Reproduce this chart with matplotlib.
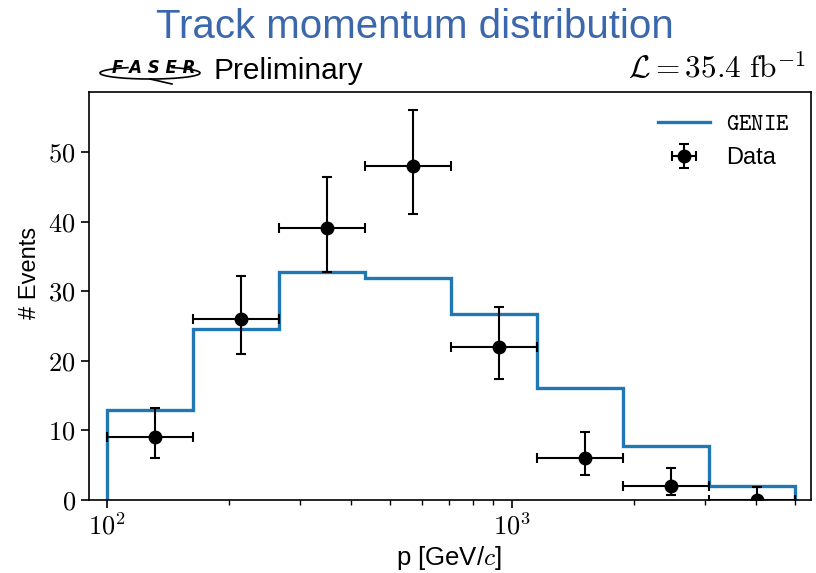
import numpy as np
import matplotlib
matplotlib.use("Agg")
import matplotlib.pyplot as plt
from matplotlib.patches import Arc
from matplotlib.ticker import FuncFormatter, FixedLocator

plt.rcParams['mathtext.fontset'] = 'cm'
plt.rcParams['font.family'] = ['Liberation Sans', 'DejaVu Sans']

# momentum bins [GeV/c]
edges = [100, 163, 266, 434, 707, 1153, 1879, 3064, 4997]
# GENIE prediction per bin
genie = [12.9, 24.6, 32.7, 31.9, 26.7, 16.1, 7.8, 2.0]
# observed events with asymmetric errors
counts = [9, 26, 39, 48, 22, 6, 2, 0]
err_lo = [3.0, 5.0, 6.2, 6.9, 4.6, 2.4, 1.3, 0.0]
err_hi = [4.2, 6.2, 7.4, 8.0, 5.7, 3.7, 2.6, 1.8]

edges = np.array(edges, dtype=float)
centers = 0.5 * (edges[:-1] + edges[1:])
xerr = [centers - edges[:-1], edges[1:] - centers]

fig = plt.figure(figsize=(8.16, 5.73), dpi=100)
ax = fig.add_axes([89 / 816, 1 - 500 / 573, 722 / 816, 408 / 573])

ax.stairs(genie, edges, color='#1f77b4', lw=2.4, label=r'$\mathtt{GENIE}$')
ax.errorbar(centers, counts, yerr=[err_lo, err_hi], xerr=xerr, fmt='o',
            color='black', ms=9, elinewidth=1.5, capsize=3.5, capthick=1.5,
            label='Data')

ax.set_xscale('log')
ax.set_xlim(90.4, 5470)
ax.set_ylim(0, 58.6)
ax.xaxis.set_major_locator(FixedLocator([100, 1000]))
ax.xaxis.set_major_formatter(FuncFormatter(lambda v, p: r'$10^{%d}$' % round(np.log10(v))))
ax.yaxis.set_major_locator(FixedLocator([0, 10, 20, 30, 40, 50]))
ax.yaxis.set_major_formatter(FuncFormatter(lambda v, p: r'$%d$' % v))
ax.tick_params(labelsize=19, width=1.2, length=6)
ax.tick_params(which='minor', width=1.0, length=3.5)
for s in ax.spines.values():
    s.set_linewidth(1.2)

leg = ax.legend(loc='upper right', frameon=False, fontsize=17, handlelength=2.2,
                handletextpad=0.7, borderaxespad=0.5)

fig.text(30 / 816, 1 - 273 / 573, '# Events', rotation=90, ha='center', va='center', fontsize=17)
fig.text(449 / 816, 1 - 565 / 573, r'p [GeV/$c$]', ha='center', va='baseline', fontsize=18.5)

fig.text(415 / 816, 1 - 38 / 573, 'Track momentum distribution', ha='center', va='baseline',
         fontsize=29, color='#3b68ad')
fig.text(213 / 816, 1 - 79 / 573, 'Preliminary', ha='left', va='baseline', fontsize=21.5)
fig.text(806 / 816, 1 - 79 / 573, r'$\mathcal{L} = 35.4\ \mathrm{fb}^{-1}$', ha='right',
         va='baseline', fontsize=22.5)

# experiment logo: italic lettering with a swoosh around it
fig.text(154 / 816, 1 - 73 / 573, 'F A S E R', ha='center', va='baseline', fontsize=12,
         fontweight='bold', fontstyle='italic', family='DejaVu Sans')
fig.add_artist(Arc((150 / 816, 1 - 73 / 573), 100 / 816, 12 / 573, theta1=160, theta2=380,
                   transform=fig.transFigure, color='black', lw=1.2))
fig.add_artist(plt.Line2D([150 / 816, 172 / 816], [1 - 79 / 573, 1 - 84 / 573],
                          transform=fig.transFigure, color='black', lw=1.2))

fig.savefig('out.png', dpi=100)
